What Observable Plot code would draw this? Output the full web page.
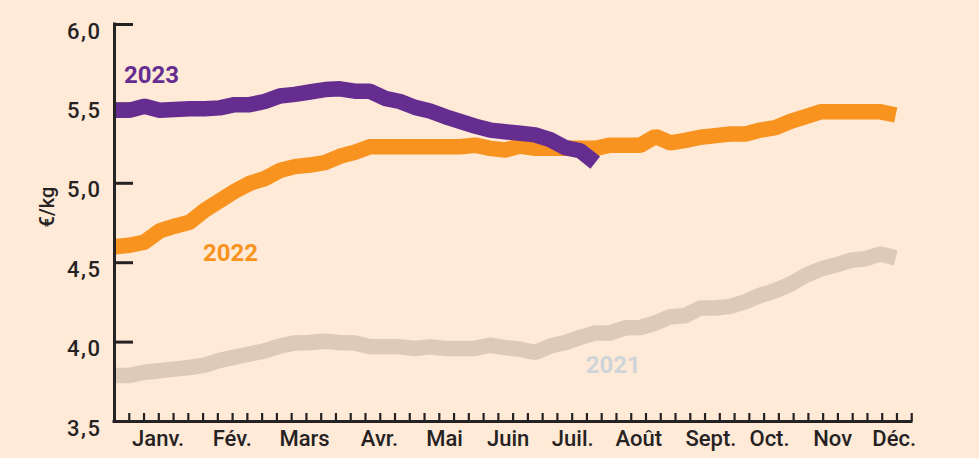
<!DOCTYPE html>
<html><head><meta charset="utf-8">
<script src="https://cdn.jsdelivr.net/npm/d3@7"></script>
<script src="https://cdn.jsdelivr.net/npm/@observablehq/plot@0.6"></script>
<style>
html,body{margin:0;padding:0;background:#feead7;}
#chart{width:979px;height:458px;overflow:hidden;}
svg{font-family:Roboto,"Noto Sans",sans-serif;}
</style></head><body><div id="chart"></div>
<script>
// Weekly prices, €/kg (week index 0 = first week of January)
const values2021 = [3.79,3.79,3.81,3.82,3.83,3.84,3.855,3.885,3.905,3.925,3.945,3.975,3.995,3.997,4.005,3.997,3.995,3.97,3.97,3.97,3.96,3.97,3.96,3.96,3.96,3.98,3.965,3.955,3.935,3.975,3.997,4.03,4.058,4.058,4.09,4.092,4.12,4.16,4.166,4.215,4.215,4.225,4.255,4.295,4.325,4.365,4.42,4.46,4.485,4.515,4.525,4.555,4.53];
const values2022 = [4.60,4.61,4.63,4.70,4.73,4.755,4.83,4.89,4.95,5.00,5.03,5.08,5.105,5.115,5.13,5.17,5.195,5.23,5.23,5.23,5.23,5.23,5.23,5.23,5.24,5.22,5.21,5.235,5.22,5.22,5.22,5.22,5.22,5.24,5.24,5.24,5.295,5.255,5.27,5.29,5.30,5.31,5.31,5.335,5.35,5.39,5.42,5.45,5.45,5.45,5.45,5.45,5.43];
const values2023 = [5.46,5.46,5.485,5.46,5.465,5.47,5.47,5.475,5.495,5.495,5.515,5.55,5.56,5.575,5.59,5.595,5.58,5.58,5.535,5.515,5.478,5.455,5.42,5.39,5.36,5.335,5.325,5.315,5.305,5.275,5.225,5.205,5.13];

const seriesNames = ["2021", "2022", "2023"];
const seriesColors = ["#dccbb9", "#f7931e", "#662d91"];
const labelColors = ["#cfd4d9", "#f7931e", "#662d91"];
// label anchor positions (week, €/kg)
const labelWeeks = [33.2, 7.72, 2.46];
const labelValues = [3.853, 4.561, 5.682];

const monthLabels = ["Janv.", "Fév.", "Mars", "Avr.", "Mai", "Juin", "Juil.", "Août", "Sept.", "Oct.", "Nov", "Déc."];
const monthWeeks = [2.9, 7.84, 12.65, 17.64, 21.97, 26.2, 30.5, 34.9, 39.7, 43.6, 47.8, 51.9];

const yTickValues = [4.0, 4.5, 5.0, 5.5, 6.0];
const yLabelValues = [3.5, 4.0, 4.5, 5.0, 5.5, 6.0];
const weekTickCount = 54;
const weekTickStep = 0.9827;
const weekTicks = d3.range(1, weekTickCount + 1).map(j => j * weekTickStep);

const allValues = [values2021, values2022, values2023];
const rows = [];
allValues.forEach((vals, s) => vals.forEach((v, i) => rows.push({series: seriesNames[s], week: i, value: v})));

const W = 979, H = 458, mL = 114, mR = 68, mT = 24, mB = 37;
const plotW = W - mL - mR, plotH = H - mT - mB;
const dark = "#262223";

const chart = Plot.plot({
  width: W, height: H,
  marginLeft: mL, marginRight: mR, marginTop: mT, marginBottom: mB,
  style: {background: "#feead7", fontFamily: "Roboto, 'Noto Sans', sans-serif", overflow: "visible"},
  x: {domain: [0, 53.05], axis: null},
  y: {domain: [3.5, 6.0], axis: null},
  color: {domain: seriesNames, range: seriesColors},
  marks: [
    Plot.ruleY(yTickValues, {stroke: dark, strokeWidth: 3, insetRight: plotW - 19}),
    Plot.ruleX(weekTicks, {stroke: dark, strokeWidth: 2.2, insetTop: plotH - 8}),
    Plot.line(rows, {x: "week", y: "value", z: "series", stroke: "series",
      strokeWidth: 15.5, strokeLinecap: "butt", strokeLinejoin: "miter"}),
    Plot.ruleX([0], {stroke: dark, strokeWidth: 3, strokeLinecap: "square"}),
    Plot.ruleY([3.5], {stroke: dark, strokeWidth: 3, strokeLinecap: "square"}),
    Plot.text(seriesNames, {x: (d, i) => labelWeeks[i], y: (d, i) => labelValues[i], text: d => d,
      fill: (d, i) => labelColors[i], fontSize: 24, fontWeight: "bold", textAnchor: "middle"}),
    Plot.text(monthLabels, {x: (d, i) => monthWeeks[i], frameAnchor: "bottom", text: d => d,
      dy: 24, fontSize: 22, fontWeight: 500, fill: dark, textAnchor: "middle"}),
    Plot.text(yLabelValues, {frameAnchor: "left", y: d => d, text: d => d.toFixed(1).replace(".", ","),
      textAnchor: "end", dx: -13, dy: 7, fontSize: 22, fontWeight: 500, fill: dark}),
    Plot.text(["€/kg"], {frameAnchor: "left", text: d => d, rotate: -90, dx: -67, dy: -16,
      fontSize: 20, fontWeight: 500, fill: dark, textAnchor: "middle"})
  ]
});
d3.select(chart).selectAll("text").filter(function() { return /^\d,\d$/.test(this.textContent); })
  .style("letter-spacing", "1.5px");
document.getElementById("chart").appendChild(chart);
</script>
</body></html>
